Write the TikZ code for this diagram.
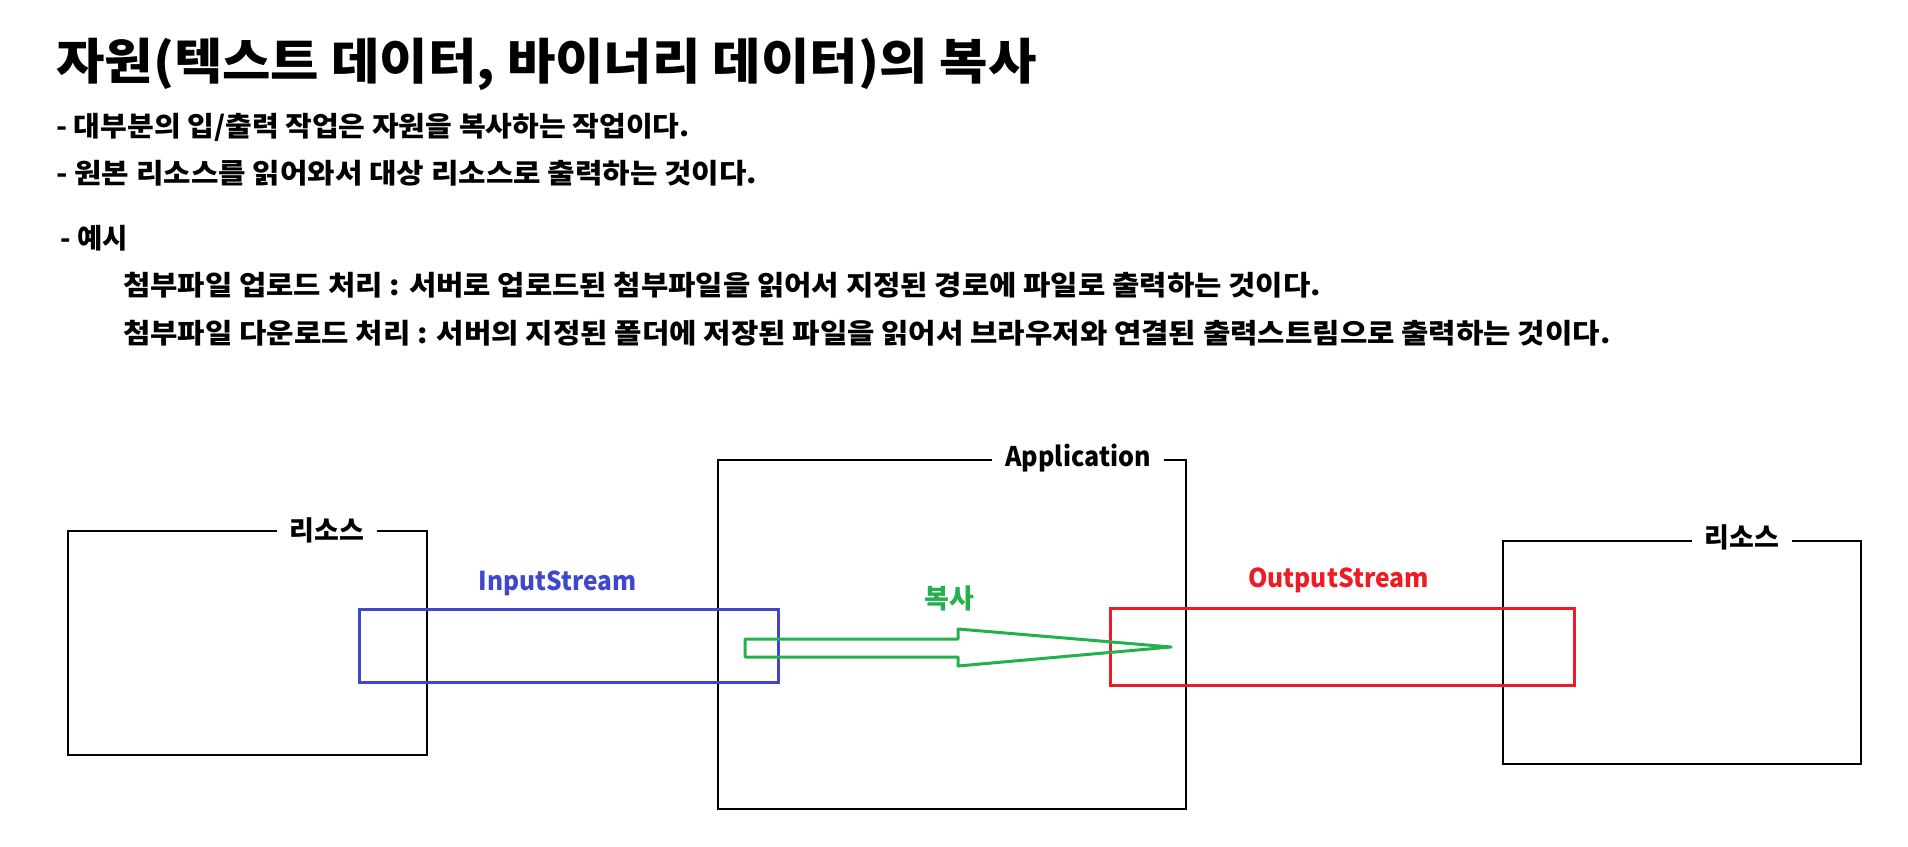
\documentclass[tikz,border=0pt]{standalone}
\usepackage{graphicx}
\usepackage{fontspec}
\setmainfont{Noto Sans CJK KR}
\definecolor{pblue}{RGB}{63,72,204}
\definecolor{pred}{RGB}{237,28,36}
\definecolor{pgreen}{RGB}{34,177,76}
\newcommand\hsc[2]{\scalebox{#1}[1]{#2}}
\tikzset{
 txt/.style={anchor=base west, inner sep=0pt, font=\fontsize{27.5}{30}\selectfont\bfseries},
 ttl/.style={anchor=base west, inner sep=0pt, font=\fontsize{49}{55}\selectfont\bfseries},
 frame/.style={draw=black, line width=1.3pt, anchor=north west, inner sep=0pt, outer sep=0pt},
 lbl/.style={anchor=base, fill=white, inner xsep=13pt, inner ysep=2pt, font=\fontsize{27}{30}\selectfont\bfseries},
 stream/.style={line width=3pt, anchor=north west, inner sep=0pt, outer sep=0pt},
 slabel/.style={anchor=base, inner sep=0pt, font=\fontsize{26}{30}\selectfont\bfseries}
}
\begin{document}
\begin{tikzpicture}[x=1pt,y=-1pt]
\useasboundingbox[fill=white] (0,0) rectangle (1908,846);
% texts
\node[ttl] (title) at (56,79) {\hsc{1.074}{자원(텍스트 데이터, 바이너리 데이터)의 복사}};
\node[txt] (l1) at (56,136.5) {\hsc{1.056}{- 대부분의 입/출력 작업은 자원을 복사하는 작업이다.}};
\node[txt] (l2) at (56,183.5) {\hsc{1.085}{- 원본 리소스를 읽어와서 대상 리소스로 출력하는 것이다.}};
\node[txt] (ex) at (60,248.5) {- 예시};
\node[txt] (ex1) at (123,295.5) {\hsc{1.08}{첨부파일 업로드 처리 : 서버로 업로드된 첨부파일을 읽어서 지정된 경로에 파일로 출력하는 것이다.}};
\node[txt] (ex2) at (123,343.5) {\hsc{1.082}{첨부파일 다운로드 처리 : 서버의 지정된 폴더에 저장된 파일을 읽어서 브라우저와 연결된 출력스트림으로 출력하는 것이다.}};
% frames
\node[frame, minimum width=359pt, minimum height=224pt] (resL) at (68,531) {};
\node[frame, minimum width=468pt, minimum height=349pt] (app) at (718,460) {};
\node[frame, minimum width=358pt, minimum height=223pt] (resR) at (1503,541) {};
\node[lbl] (lblL) at (327,540) {리소스};
\node[lbl] (lblR) at (1742,547) {리소스};
\node[lbl] (lblA) at (1078,466) {\hsc{0.93}{Application}};
% streams
\node[stream, draw=pblue, minimum width=419pt, minimum height=73pt] (inS) at (359,609) {};
\node[stream, draw=pred, minimum width=464pt, minimum height=77pt] (outS) at (1110,608) {};
\node[slabel, text=pblue] (inL) at (557.5,590) {\hsc{0.94}{InputStream}};
\node[slabel, text=pred] (outL) at (1338.5,587) {\hsc{0.95}{OutputStream}};
\node[slabel, text=pgreen, font=\fontsize{27}{30}\selectfont\bfseries] (copyL) at (949,608) {복사};
% copy arrow
\coordinate (arrTail) at (745,648);
\coordinate (arrTip) at (1171,647);
\draw[pgreen, line width=3pt, line join=round]
  (arrTail |- 0,639) -- (958,639) -- (958,629) -- (arrTip) -- (958,666) -- (958,657) -- (arrTail |- 0,657) -- cycle;
\end{tikzpicture}
\end{document}
